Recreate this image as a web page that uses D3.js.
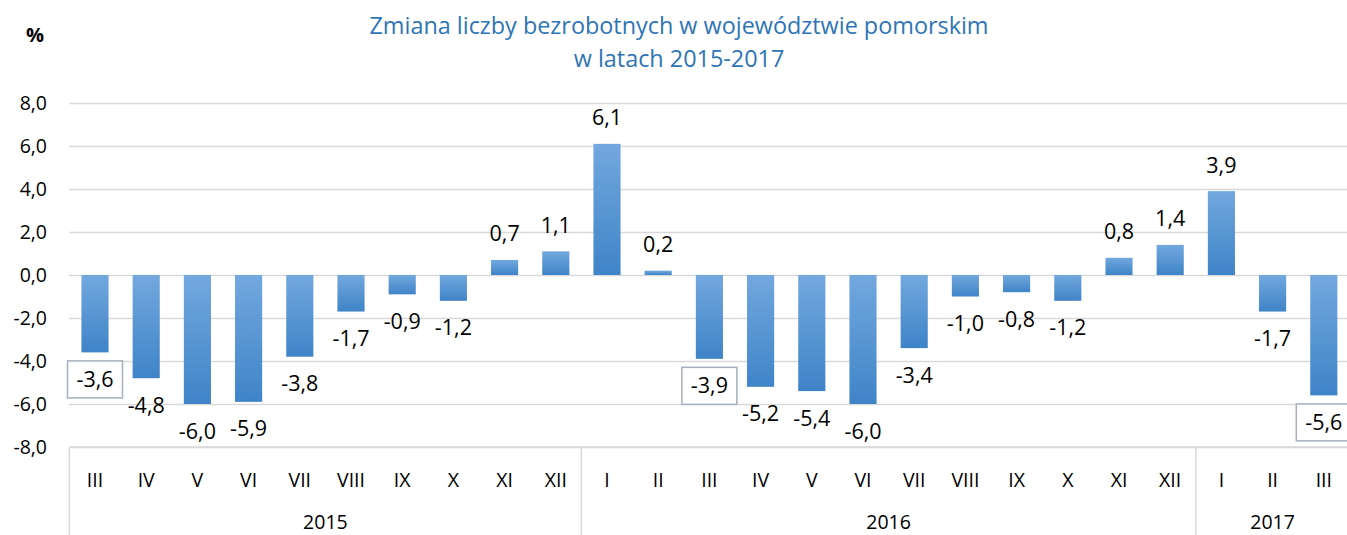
<!DOCTYPE html>
<html>
<head>
<meta charset="utf-8">
<script src="https://cdn.jsdelivr.net/npm/d3@7"></script>
<style>
  body { margin: 0; background: #fff; }
  text { font-family: "Open Sans", "Liberation Sans", sans-serif; }
</style>
</head>
<body>
<svg id="chart" width="1347" height="535"></svg>
<script>
// months (roman numerals) and years
var months = [ "III", "IV", "V", "VI", "VII", "VIII", "IX", "X", "XI", "XII",
               "I", "II", "III", "IV", "V", "VI", "VII", "VIII", "IX", "X", "XI", "XII",
               "I", "II", "III" ];
var years = [ "2015", "2015", "2015", "2015", "2015", "2015", "2015", "2015", "2015", "2015",
              "2016", "2016", "2016", "2016", "2016", "2016", "2016", "2016", "2016", "2016", "2016", "2016",
              "2017", "2017", "2017" ];
var values = [ -3.6, -4.8, -6.0, -5.9, -3.8, -1.7, -0.9, -1.2, 0.7, 1.1,
               6.1, 0.2, -3.9, -5.2, -5.4, -6.0, -3.4, -1.0, -0.8, -1.2, 0.8, 1.4,
               3.9, -1.7, -5.6 ];
var yTicks = [ -8, -6, -4, -2, 0, 2, 4, 6, 8 ];
var boxed = [ 0, 12, 24 ]; // labels drawn with a frame

var svg = d3.select( "#chart" );
var fmt = v => d3.format( ".1f" )( v ).replace( ".", "," ).replace( "−", "-" );

var x = d3.scaleBand()
    .domain( d3.range( values.length ) ).range( [69.4, 1349.4] )
    .paddingInner( 0.47 ).paddingOuter( 0.235 );
var y = d3.scaleLinear().domain( [-8, 8] ).range( [447, 103] );

// bar gradient, lighter at top
var grad = svg.append( "defs" ).append( "linearGradient" )
    .attr( "id", "barGrad" ).attr( "x1", 0 ).attr( "y1", 0 ).attr( "x2", 0 ).attr( "y2", 1 );
grad.append( "stop" ).attr( "offset", "0%" ).attr( "stop-color", "#72a8de" );
grad.append( "stop" ).attr( "offset", "100%" ).attr( "stop-color", "#3f84c8" );

// title
svg.append( "text" ).attr( "x", 679 ).attr( "y", 34 ).attr( "text-anchor", "middle" )
    .attr( "font-size", 23.4 ).attr( "fill", "#2e75b6" )
    .text( "Zmiana liczby bezrobotnych w województwie pomorskim" );
svg.append( "text" ).attr( "x", 679 ).attr( "y", 67 ).attr( "text-anchor", "middle" )
    .attr( "font-size", 23.4 ).attr( "fill", "#2e75b6" )
    .text( "w latach 2015-2017" );
svg.append( "text" ).attr( "x", 35 ).attr( "y", 42 ).attr( "text-anchor", "middle" )
    .attr( "font-size", 20 ).attr( "font-weight", "bold" ).text( "%" );

// gridlines + y axis labels
var yAxis = d3.axisLeft( y ).tickValues( yTicks ).tickSize( -(1347 - 69) ).tickFormat( fmt );
svg.append( "g" ).attr( "transform", "translate(69,0)" ).call( yAxis )
    .call( g => g.select( ".domain" ).remove() )
    .call( g => g.selectAll( ".tick line" ).attr( "stroke", "#d9d9d9" ).attr( "stroke-width", 1.5 ) )
    .call( g => g.selectAll( ".tick text" ).attr( "x", -22 ).attr( "font-size", 19.5 )
        .attr( "fill", "#000" ).attr( "font-family", "'Open Sans', sans-serif" ) );

// bars
svg.append( "g" ).selectAll( "rect" ).data( values ).enter().append( "rect" )
    .attr( "x", (d,i) => x(i) ).attr( "width", x.bandwidth() )
    .attr( "y", d => y( Math.max( d, 0 ) ) )
    .attr( "height", d => Math.abs( y(d) - y(0) ) )
    .attr( "fill", "url(#barGrad)" );

// value labels
var lab = svg.append( "g" ).selectAll( "g" ).data( values ).enter().append( "g" )
    .attr( "transform", (d,i) => "translate(" + ( x(i) + x.bandwidth()/2 ) + "," +
        ( d >= 0 ? y(d) - 26 : y(d) + 27 ) + ")" );
lab.filter( (d,i) => boxed.includes( i ) ).append( "rect" )
    .attr( "x", -27.5 ).attr( "y", -18.5 ).attr( "width", 55 ).attr( "height", 37 )
    .attr( "fill", "#fff" ).attr( "stroke", "#a6afbd" ).attr( "stroke-width", 1.5 );
lab.append( "text" ).attr( "text-anchor", "middle" ).attr( "dy", "0.35em" )
    .attr( "font-size", 21.5 ).text( d => fmt( d ) );

// category axis box
var axisG = svg.append( "g" ).attr( "stroke", "#d9d9d9" ).attr( "stroke-width", 1.5 );
axisG.append( "line" ).attr( "x1", 69.4 ).attr( "x2", 1347 ).attr( "y1", 447 ).attr( "y2", 447 );
var yearNames = Array.from( new Set( years ) );
var bounds = yearNames.map( yr => [ years.indexOf( yr ), years.lastIndexOf( yr ) ] );
var step = x.step();
var x0 = x.range()[0];
axisG.selectAll( ".sep" ).data( bounds ).enter().append( "line" )
    .attr( "x1", d => x0 + d[0] * step ).attr( "x2", d => x0 + d[0] * step )
    .attr( "y1", 447 ).attr( "y2", 535 );

svg.append( "g" ).selectAll( "text" ).data( months ).enter().append( "text" )
    .attr( "x", (d,i) => x(i) + x.bandwidth()/2 ).attr( "y", 487 )
    .attr( "text-anchor", "middle" ).attr( "font-size", 19.5 ).text( d => d );
svg.append( "g" ).selectAll( "text" ).data( bounds ).enter().append( "text" )
    .attr( "x", d => x0 + ( d[0] + d[1] + 1 ) / 2 * step ).attr( "y", 529 )
    .attr( "text-anchor", "middle" ).attr( "font-size", 19.5 )
    .text( (d,i) => yearNames[i] );
</script>
</body>
</html>
